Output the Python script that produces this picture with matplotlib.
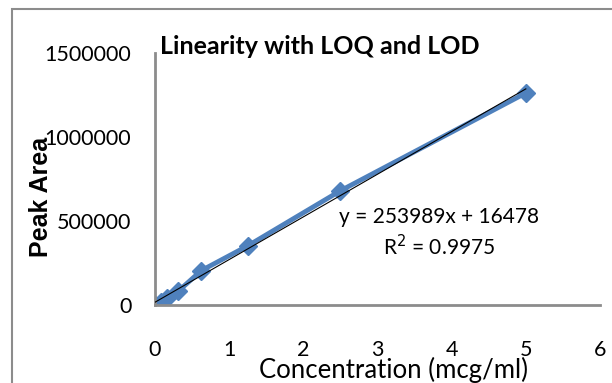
import matplotlib
matplotlib.use("Agg")
import matplotlib.pyplot as plt
from matplotlib.patches import Rectangle
import numpy as np

conc = [0, 0.078, 0.156, 0.3125, 0.625, 1.25, 2.5, 5]
area = [0, 20000, 40000, 82000, 205000, 352000, 680000, 1262000]
slope = 253989
intercept = 16478
r2 = 0.9975
xticks = [0, 1, 2, 3, 4, 5, 6]
yticks = [0, 500000, 1000000, 1500000]

narrow = ["Lato", "DejaVu Sans"]

fig = plt.figure(figsize=(6.12, 3.83), dpi=100)
fig.patches.append(Rectangle((12/612, -0.2), 1.2, 1 - 9/383 + 0.2, transform=fig.transFigure,
                             fill=False, edgecolor="#8c8c8c", lw=1.5))
ax = fig.add_axes([155/612, 1 - 305/383, 445/612, 252/383])

tx = np.array([0, 5])
ax.plot(tx, slope * tx + intercept, color="black", lw=0.8, zorder=3)
ax.plot(conc, area, color="#4f81bd", lw=3.5, marker="D", markersize=9, zorder=2)

ax.set_xlim(0, 6)
ax.set_ylim(0, 1500000)
ax.set_xticks(xticks)
ax.set_yticks(yticks)
ax.set_xticklabels([str(v) for v in xticks], family=narrow, fontsize=15.5)
ax.set_yticklabels([str(v) for v in yticks], family=narrow, fontsize=15.5)
ax.tick_params(axis="x", length=0, pad=25)
ax.tick_params(axis="y", length=0, pad=17)
for s in ["top", "right"]:
    ax.spines[s].set_visible(False)
for s in ["left", "bottom"]:
    ax.spines[s].set_color("#8c8c8c")
    ax.spines[s].set_linewidth(2)

fig.text(160/612, 1 - 46/383, "Linearity with LOQ and LOD", family=narrow,
         fontsize=18, fontweight="bold", va="center", ha="left")
fig.text(41/612, 1 - 197/383, "Peak Area", family=["Liberation Sans", "DejaVu Sans"],
         fontsize=18, fontweight="bold", rotation=90, va="center", ha="center")
fig.text(393/612, 1 - 370/383, "Concentration (mcg/ml)", family=narrow,
         fontsize=18.5, va="center", ha="center")
ax.text(3.83, 524000, f"y = {slope}x + {intercept}", family=narrow, fontsize=15,
        ha="center", va="center")
ax.text(3.83, 345000, f"R$^2$ = {r2}", family=narrow, fontsize=15,
        ha="center", va="center")

fig.savefig("out.png", dpi=100)
